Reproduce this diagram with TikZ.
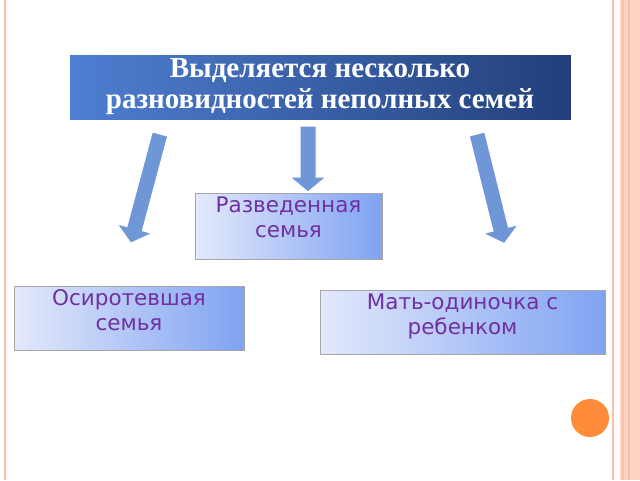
\documentclass[tikz,border=0pt]{standalone}
\usepackage{fontspec}
\setmainfont{Liberation Serif}
\newfontfamily\boxfont{DejaVu Sans}
\begin{document}
\begin{tikzpicture}[x=1pt,y=-1pt,
  hdr/.style={draw=white,line width=1pt,left color=hdrL,right color=hdrR,text=white,font=\bfseries\fontsize{29}{31}\selectfont,align=center,inner sep=0pt},
  item/.style={draw=gray!70,line width=0.8pt,left color=itemL,right color=itemR,inner sep=0pt},
  itemtext/.style={anchor=north,text=itemT,font=\boxfont\fontsize{21.5}{25}\selectfont,align=center,inner sep=4pt}]
\definecolor{hdrL}{HTML}{4F7FD2}
\definecolor{hdrR}{HTML}{223F7A}
\definecolor{itemL}{HTML}{E4E9FB}
\definecolor{itemR}{HTML}{7FA3F2}
\definecolor{itemT}{HTML}{7030A0}
\definecolor{arr}{HTML}{6F97D8}
\definecolor{brd}{HTML}{F9BFAA}
\definecolor{dot}{HTML}{FF8C3A}
\useasboundingbox (0,0) rectangle (640,480);
\fill[white] (0,0) rectangle (640,480);
% borders
\fill[brd] (4,0) rectangle (6,480);
\fill[brd] (612,0) rectangle (614,480);
\fill[brd!70] (620,0) rectangle (640,480);
\fill[brd] (622,0) rectangle (624,480);
\fill[brd] (628,0) rectangle (630,480);
% header
\node[hdr,minimum width=502,minimum height=66] (h) at (320,87) {Выделяется несколько\\разновидностей неполных семей};
% boxes
\node[item,minimum width=187,minimum height=66] (b1) at (288.5,226) {};
\node[itemtext] (t1) at (b1.north) {Разведенная\\семья};
\node[item,minimum width=230,minimum height=64] (b2) at (129,318) {};
\node[itemtext] (t2) at (b2.north) {Осиротевшая\\семья};
\node[item,minimum width=285,minimum height=64] (b3) at (462.5,322) {};
\node[itemtext] (t3) at (b3.north) {Мать-одиночка с\\ребенком};
% block arrows
\foreach \sx/\sy/\ang/\len in {308/126/0/66, 160/134/-15/113, 477/134/14/113}{
  \begin{scope}[shift={(\sx,\sy)},rotate=\ang]
    \draw[fill=arr,draw=white,line width=1pt] (-8,0) -- (8,0) -- (8,\len-15) -- (18,\len-15) -- (0,\len) -- (-18,\len-15) -- (-8,\len-15) -- cycle;
  \end{scope}
}
% orange dot
\fill[dot] (590,418) ellipse (19 and 19);
\end{tikzpicture}
\end{document}
